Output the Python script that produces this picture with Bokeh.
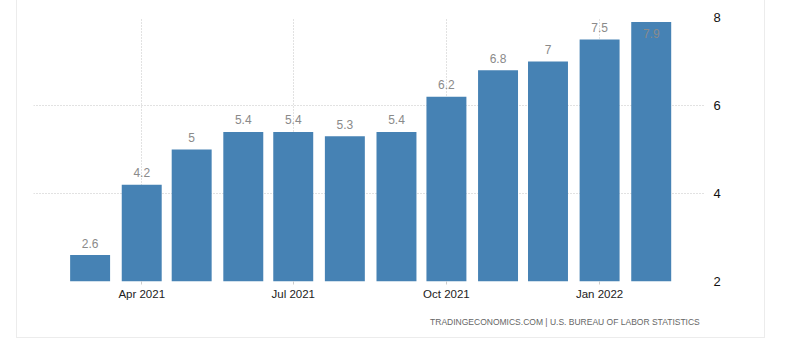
import pandas as pd
from bokeh.plotting import figure
from bokeh.models import ColumnDataSource, FixedTicker, Range1d, Title
from bokeh.embed import file_html
from bokeh.resources import INLINE

# ---- data ----
months = ["2021-03-01", "2021-04-01", "2021-05-01", "2021-06-01", "2021-07-01", "2021-08-01",
          "2021-09-01", "2021-10-01", "2021-11-01", "2021-12-01", "2022-01-01", "2022-02-01"]
values = [2.6, 4.2, 5.0, 5.4, 5.4, 5.3, 5.4, 6.2, 6.8, 7.0, 7.5, 7.9]
value_labels = ["2.6", "4.2", "5", "5.4", "5.4", "5.3", "5.4", "6.2", "6.8", "7", "7.5", "7.9"]
tick_dates = ["2021-04-01", "2021-07-01", "2021-10-01", "2022-01-01"]
tick_labels = ["Apr 2021", "Jul 2021", "Oct 2021", "Jan 2022"]
y_ticks = [2, 4, 6, 8]
footer = "TRADINGECONOMICS.COM  |  U.S. BUREAU OF LABOR STATISTICS"

dates = pd.to_datetime(months)
ymax = 8
offsets = [-12 if v < ymax - 0.3 else 12 for v in values]
src = ColumnDataSource(dict(x=dates, top=values, lab=value_labels, off=offsets))

DAY = 24 * 3600 * 1000
x_start = pd.Timestamp("2021-01-26").value / 1e6
x_end = pd.Timestamp("2022-03-05").value / 1e6

p = figure(width=749, height=338, x_axis_type="datetime", y_axis_location="right",
           x_range=Range1d(x_start, x_end), y_range=Range1d(2, ymax),
           output_backend="svg", toolbar_location=None,
           min_border_left=16, min_border_right=62, min_border_top=17, min_border_bottom=57,
           margin=(0, 0, 0, 16),
           styles={"border-left": "1px solid #ececec", "border-right": "1px solid #ececec",
                   "border-bottom": "1px solid #ececec"})
p.outline_line_color = None
p.background_fill_color = "white"
p.border_fill_color = "white"

p.vbar(x="x", top="top", bottom=0, width=24 * DAY, source=src,
       fill_color="#4682b4", line_color=None)
p.text(x="x", y="top", text="lab", y_offset="off", source=src,
       text_align="center", text_baseline="middle", text_color="#8a8a8a",
       text_font_size="12px", text_font={"value": "Liberation Sans"})

tick_ms = [pd.Timestamp(d).value / 1e6 for d in tick_dates]
p.xaxis.ticker = FixedTicker(ticks=tick_ms)
p.xaxis.major_label_overrides = {t: l for t, l in zip(tick_ms, tick_labels)}
p.xaxis.axis_line_color = None
p.xaxis.major_tick_line_color = "#cccccc"
p.xaxis.major_tick_out = 3
p.xaxis.major_tick_in = 0
p.xaxis.minor_tick_line_color = None
p.xaxis.major_label_standoff = 3
p.xaxis.major_label_text_font = "Liberation Sans"
p.xaxis.major_label_text_font_size = "11.5px"
p.xaxis.major_label_text_color = "#222222"

p.yaxis.ticker = FixedTicker(ticks=y_ticks)
p.yaxis.axis_line_color = None
p.yaxis.major_tick_line_color = None
p.yaxis.minor_tick_line_color = None
p.yaxis.major_label_standoff = 3
p.yaxis.major_label_text_font = "Liberation Sans"
p.yaxis.major_label_text_font_size = "13px"
p.yaxis.major_label_text_color = "#111111"

p.xgrid.ticker = FixedTicker(ticks=tick_ms)
p.ygrid.ticker = FixedTicker(ticks=y_ticks)
for g in (p.xgrid, p.ygrid):
    g.grid_line_color = "#c4c4c4"
    g.grid_line_dash = "1 2"
    g.grid_line_width = 1

t = Title(text=footer, align="right", text_font="Liberation Sans", text_font_size="8.5px",
          text_color="#666666", text_font_style="normal", standoff=24)
p.add_layout(t, "below")

open("out.html", "w").write(file_html(p, INLINE))
